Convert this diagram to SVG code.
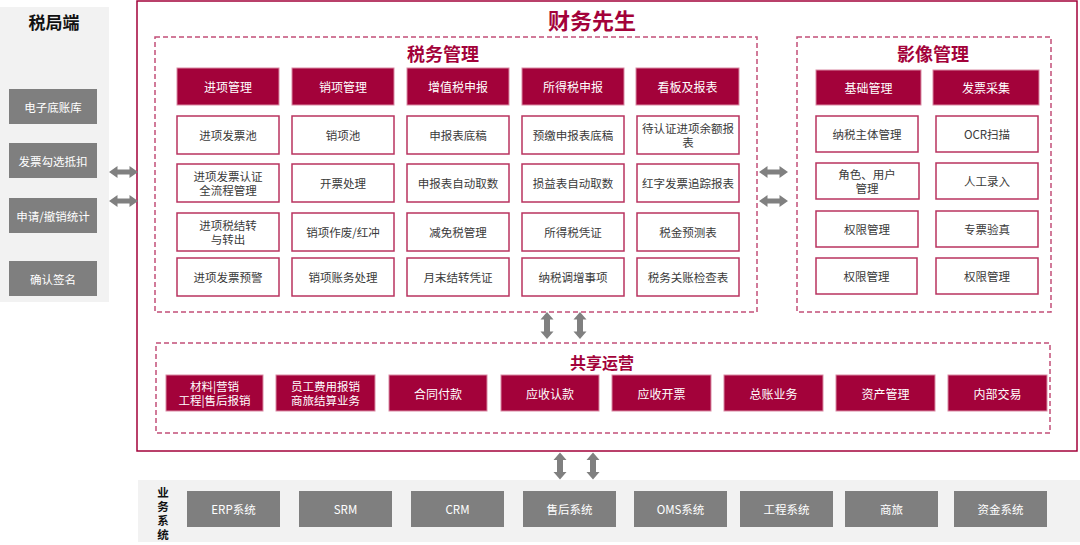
<svg xmlns="http://www.w3.org/2000/svg" width="1080" height="545" viewBox="0 0 1080 545">
<style>
text{font-family:'Noto Sans CJK SC','Noto Sans',sans-serif;text-anchor:middle;dominant-baseline:central}
.panel{fill:#f2f2f2}
.gbox{fill:#7f7f7f}
.gt{fill:#fff;font-size:11.5px}
.hbox{fill:#a3023a;stroke:#d98aa3;stroke-width:1}
.ht{fill:#fff;font-size:12px}
.ht2{fill:#fff;font-size:11.5px}
.sbox{fill:#fff;stroke:#b9335f;stroke-width:1.5}
.st{fill:#3a3a3a;font-size:11.5px}
.dash{fill:none;stroke:#c24f78;stroke-width:1.5;stroke-dasharray:5 3}
.title{fill:#a3023a;font-weight:bold}
.arrow{fill:#808080}
</style>
<defs>
<path id="ha" d="M-14.5 0L-6 -6V-2.5H6V-6L14.5 0L6 6V2.5H-6V6Z"/>
<path id="va" d="M0 -13.5L6.5 -6H3V6H6.5L0 13.5L-6.5 6H-3V-6H-6.5Z"/>
</defs>

<g id="tax-bureau">
<rect class="panel" x="0" y="7" width="109" height="295"/>
<text x="54" y="21" style="font-size:17px;font-weight:bold;fill:#111">税局端</text>
<rect class="gbox" x="9" y="89" width="88" height="35"/><text class="gt" x="53" y="106.5">电子底账库</text>
<rect class="gbox" x="9" y="143" width="88" height="35"/><text class="gt" x="53" y="160.5">发票勾选抵扣</text>
<rect class="gbox" x="9" y="198" width="88" height="35"/><text class="gt" x="53" y="215.5">申请/撤销统计</text>
<rect class="gbox" x="9" y="261" width="88" height="35"/><text class="gt" x="53" y="278.5">确认签名</text>
</g>

<g id="main">
<rect x="137" y="1" width="940" height="450" fill="#fff" stroke="#a3023a" stroke-width="1.5"/>
<text class="title" x="592" y="19" style="font-size:22px">财务先生</text>
</g>

<g id="tax-mgmt">
<rect class="dash" x="155" y="37" width="602" height="275"/>
<text class="title" x="443" y="53" style="font-size:18px">税务管理</text>
<rect class="hbox" x="177" y="68" width="102" height="37"/><text class="ht" x="228" y="86.5">进项管理</text>
<rect class="hbox" x="292" y="68" width="102" height="37"/><text class="ht" x="343" y="86.5">销项管理</text>
<rect class="hbox" x="407" y="68" width="102" height="37"/><text class="ht" x="458" y="86.5">增值税申报</text>
<rect class="hbox" x="522" y="68" width="102" height="37"/><text class="ht" x="573" y="86.5">所得税申报</text>
<rect class="hbox" x="636" y="68" width="103" height="37"/><text class="ht" x="687.5" y="86.5">看板及报表</text>

<rect class="sbox" x="177" y="116" width="102" height="38"/><text class="st" x="228" y="135">进项发票池</text>
<rect class="sbox" x="292" y="116" width="102" height="38"/><text class="st" x="343" y="135">销项池</text>
<rect class="sbox" x="407" y="116" width="102" height="38"/><text class="st" x="458" y="135">申报表底稿</text>
<rect class="sbox" x="522" y="116" width="102" height="38"/><text class="st" x="573" y="135">预缴申报表底稿</text>
<rect class="sbox" x="637" y="116" width="102" height="38"/><text class="st" x="688" y="128">待认证进项余额报<tspan x="688" dy="14">表</tspan></text>

<rect class="sbox" x="177" y="164" width="102" height="38"/><text class="st" x="228" y="176">进项发票认证<tspan x="228" dy="14">全流程管理</tspan></text>
<rect class="sbox" x="292" y="164" width="102" height="38"/><text class="st" x="343" y="183">开票处理</text>
<rect class="sbox" x="407" y="164" width="102" height="38"/><text class="st" x="458" y="183">申报表自动取数</text>
<rect class="sbox" x="522" y="164" width="102" height="38"/><text class="st" x="573" y="183">损益表自动取数</text>
<rect class="sbox" x="637" y="164" width="102" height="38"/><text class="st" x="688" y="183">红字发票追踪报表</text>

<rect class="sbox" x="177" y="213" width="102" height="38"/><text class="st" x="228" y="225">进项税结转<tspan x="228" dy="14">与转出</tspan></text>
<rect class="sbox" x="292" y="213" width="102" height="38"/><text class="st" x="343" y="232">销项作废/红冲</text>
<rect class="sbox" x="407" y="213" width="102" height="38"/><text class="st" x="458" y="232">减免税管理</text>
<rect class="sbox" x="522" y="213" width="102" height="38"/><text class="st" x="573" y="232">所得税凭证</text>
<rect class="sbox" x="637" y="213" width="102" height="38"/><text class="st" x="688" y="232">税金预测表</text>

<rect class="sbox" x="177" y="258" width="102" height="38"/><text class="st" x="228" y="277">进项发票预警</text>
<rect class="sbox" x="292" y="258" width="102" height="38"/><text class="st" x="343" y="277">销项账务处理</text>
<rect class="sbox" x="407" y="258" width="102" height="38"/><text class="st" x="458" y="277">月末结转凭证</text>
<rect class="sbox" x="522" y="258" width="102" height="38"/><text class="st" x="573" y="277">纳税调增事项</text>
<rect class="sbox" x="637" y="258" width="102" height="38"/><text class="st" x="688" y="277">税务关账检查表</text>
</g>

<g id="image-mgmt">
<rect class="dash" x="797" y="37" width="254" height="275"/>
<text class="title" x="933" y="53" style="font-size:18px">影像管理</text>
<rect class="hbox" x="816" y="70" width="105" height="35"/><text class="ht" x="868.5" y="87.5">基础管理</text>
<rect class="hbox" x="933" y="70" width="106" height="35"/><text class="ht" x="986" y="87.5">发票采集</text>
<rect class="sbox" x="816" y="116" width="102" height="36"/><text class="st" x="867" y="134">纳税主体管理</text>
<rect class="sbox" x="936" y="116" width="102" height="36"/><text class="st" x="987" y="134">OCR扫描</text>
<rect class="sbox" x="816" y="163" width="103" height="36"/><text class="st" x="867" y="174">角色、用户<tspan x="867" dy="14">管理</tspan></text>
<rect class="sbox" x="936" y="163" width="102" height="36"/><text class="st" x="987" y="181">人工录入</text>
<rect class="sbox" x="816" y="211" width="102" height="36"/><text class="st" x="867" y="229">权限管理</text>
<rect class="sbox" x="936" y="211" width="102" height="36"/><text class="st" x="987" y="229">专票验真</text>
<rect class="sbox" x="816" y="258" width="101" height="36"/><text class="st" x="866.5" y="276">权限管理</text>
<rect class="sbox" x="936" y="258" width="102" height="36"/><text class="st" x="987" y="276">权限管理</text>
</g>

<g id="shared-ops">
<rect class="dash" x="156" y="343" width="894" height="90"/>
<text class="title" x="602" y="362" style="font-size:16px">共享运营</text>
<rect class="hbox" x="166" y="375" width="97" height="36"/><text class="ht2" x="214.5" y="386">材料|营销<tspan x="214.5" dy="14">工程|售后报销</tspan></text>
<rect class="hbox" x="276" y="375" width="99" height="36"/><text class="ht2" x="325.5" y="386">员工费用报销<tspan x="325.5" dy="14">商旅结算业务</tspan></text>
<rect class="hbox" x="389" y="375" width="98" height="36"/><text class="ht" x="438" y="393">合同付款</text>
<rect class="hbox" x="501" y="375" width="98" height="36"/><text class="ht" x="550" y="393">应收认款</text>
<rect class="hbox" x="612" y="375" width="99" height="36"/><text class="ht" x="661.5" y="393">应收开票</text>
<rect class="hbox" x="724" y="375" width="99" height="36"/><text class="ht" x="773.5" y="393">总账业务</text>
<rect class="hbox" x="836" y="375" width="99" height="36"/><text class="ht" x="885.5" y="393">资产管理</text>
<rect class="hbox" x="948" y="375" width="99" height="36"/><text class="ht" x="997.5" y="393">内部交易</text>
</g>

<g id="business-systems">
<rect class="panel" x="138" y="480" width="942" height="62"/>
<text x="163" y="491.5" style="font-size:11.5px;font-weight:bold;fill:#111">业<tspan x="163" dy="14">务</tspan><tspan x="163" dy="14">系</tspan><tspan x="163" dy="14">统</tspan></text>
<rect class="gbox" x="187" y="491" width="93" height="36"/><text class="gt" x="233.5" y="509">ERP系统</text>
<rect class="gbox" x="299" y="491" width="93" height="36"/><text class="gt" x="345.5" y="509">SRM</text>
<rect class="gbox" x="411" y="491" width="93" height="36"/><text class="gt" x="457.5" y="509">CRM</text>
<rect class="gbox" x="523" y="491" width="93" height="36"/><text class="gt" x="569.5" y="509">售后系统</text>
<rect class="gbox" x="634" y="491" width="93" height="36"/><text class="gt" x="680.5" y="509">OMS系统</text>
<rect class="gbox" x="740" y="491" width="93" height="36"/><text class="gt" x="786.5" y="509">工程系统</text>
<rect class="gbox" x="845" y="491" width="93" height="36"/><text class="gt" x="891.5" y="509">商旅</text>
<rect class="gbox" x="954" y="491" width="93" height="36"/><text class="gt" x="1000.5" y="509">资金系统</text>
</g>

<g id="connectors" class="arrow">
<use href="#ha" x="123.5" y="172"/>
<use href="#ha" x="123.5" y="201"/>
<use href="#ha" x="773.5" y="172"/>
<use href="#ha" x="773.5" y="201"/>
<use href="#va" x="547" y="325.5"/>
<use href="#va" x="580" y="325.5"/>
<use href="#va" x="560" y="466"/>
<use href="#va" x="593" y="466"/>
</g>
</svg>
